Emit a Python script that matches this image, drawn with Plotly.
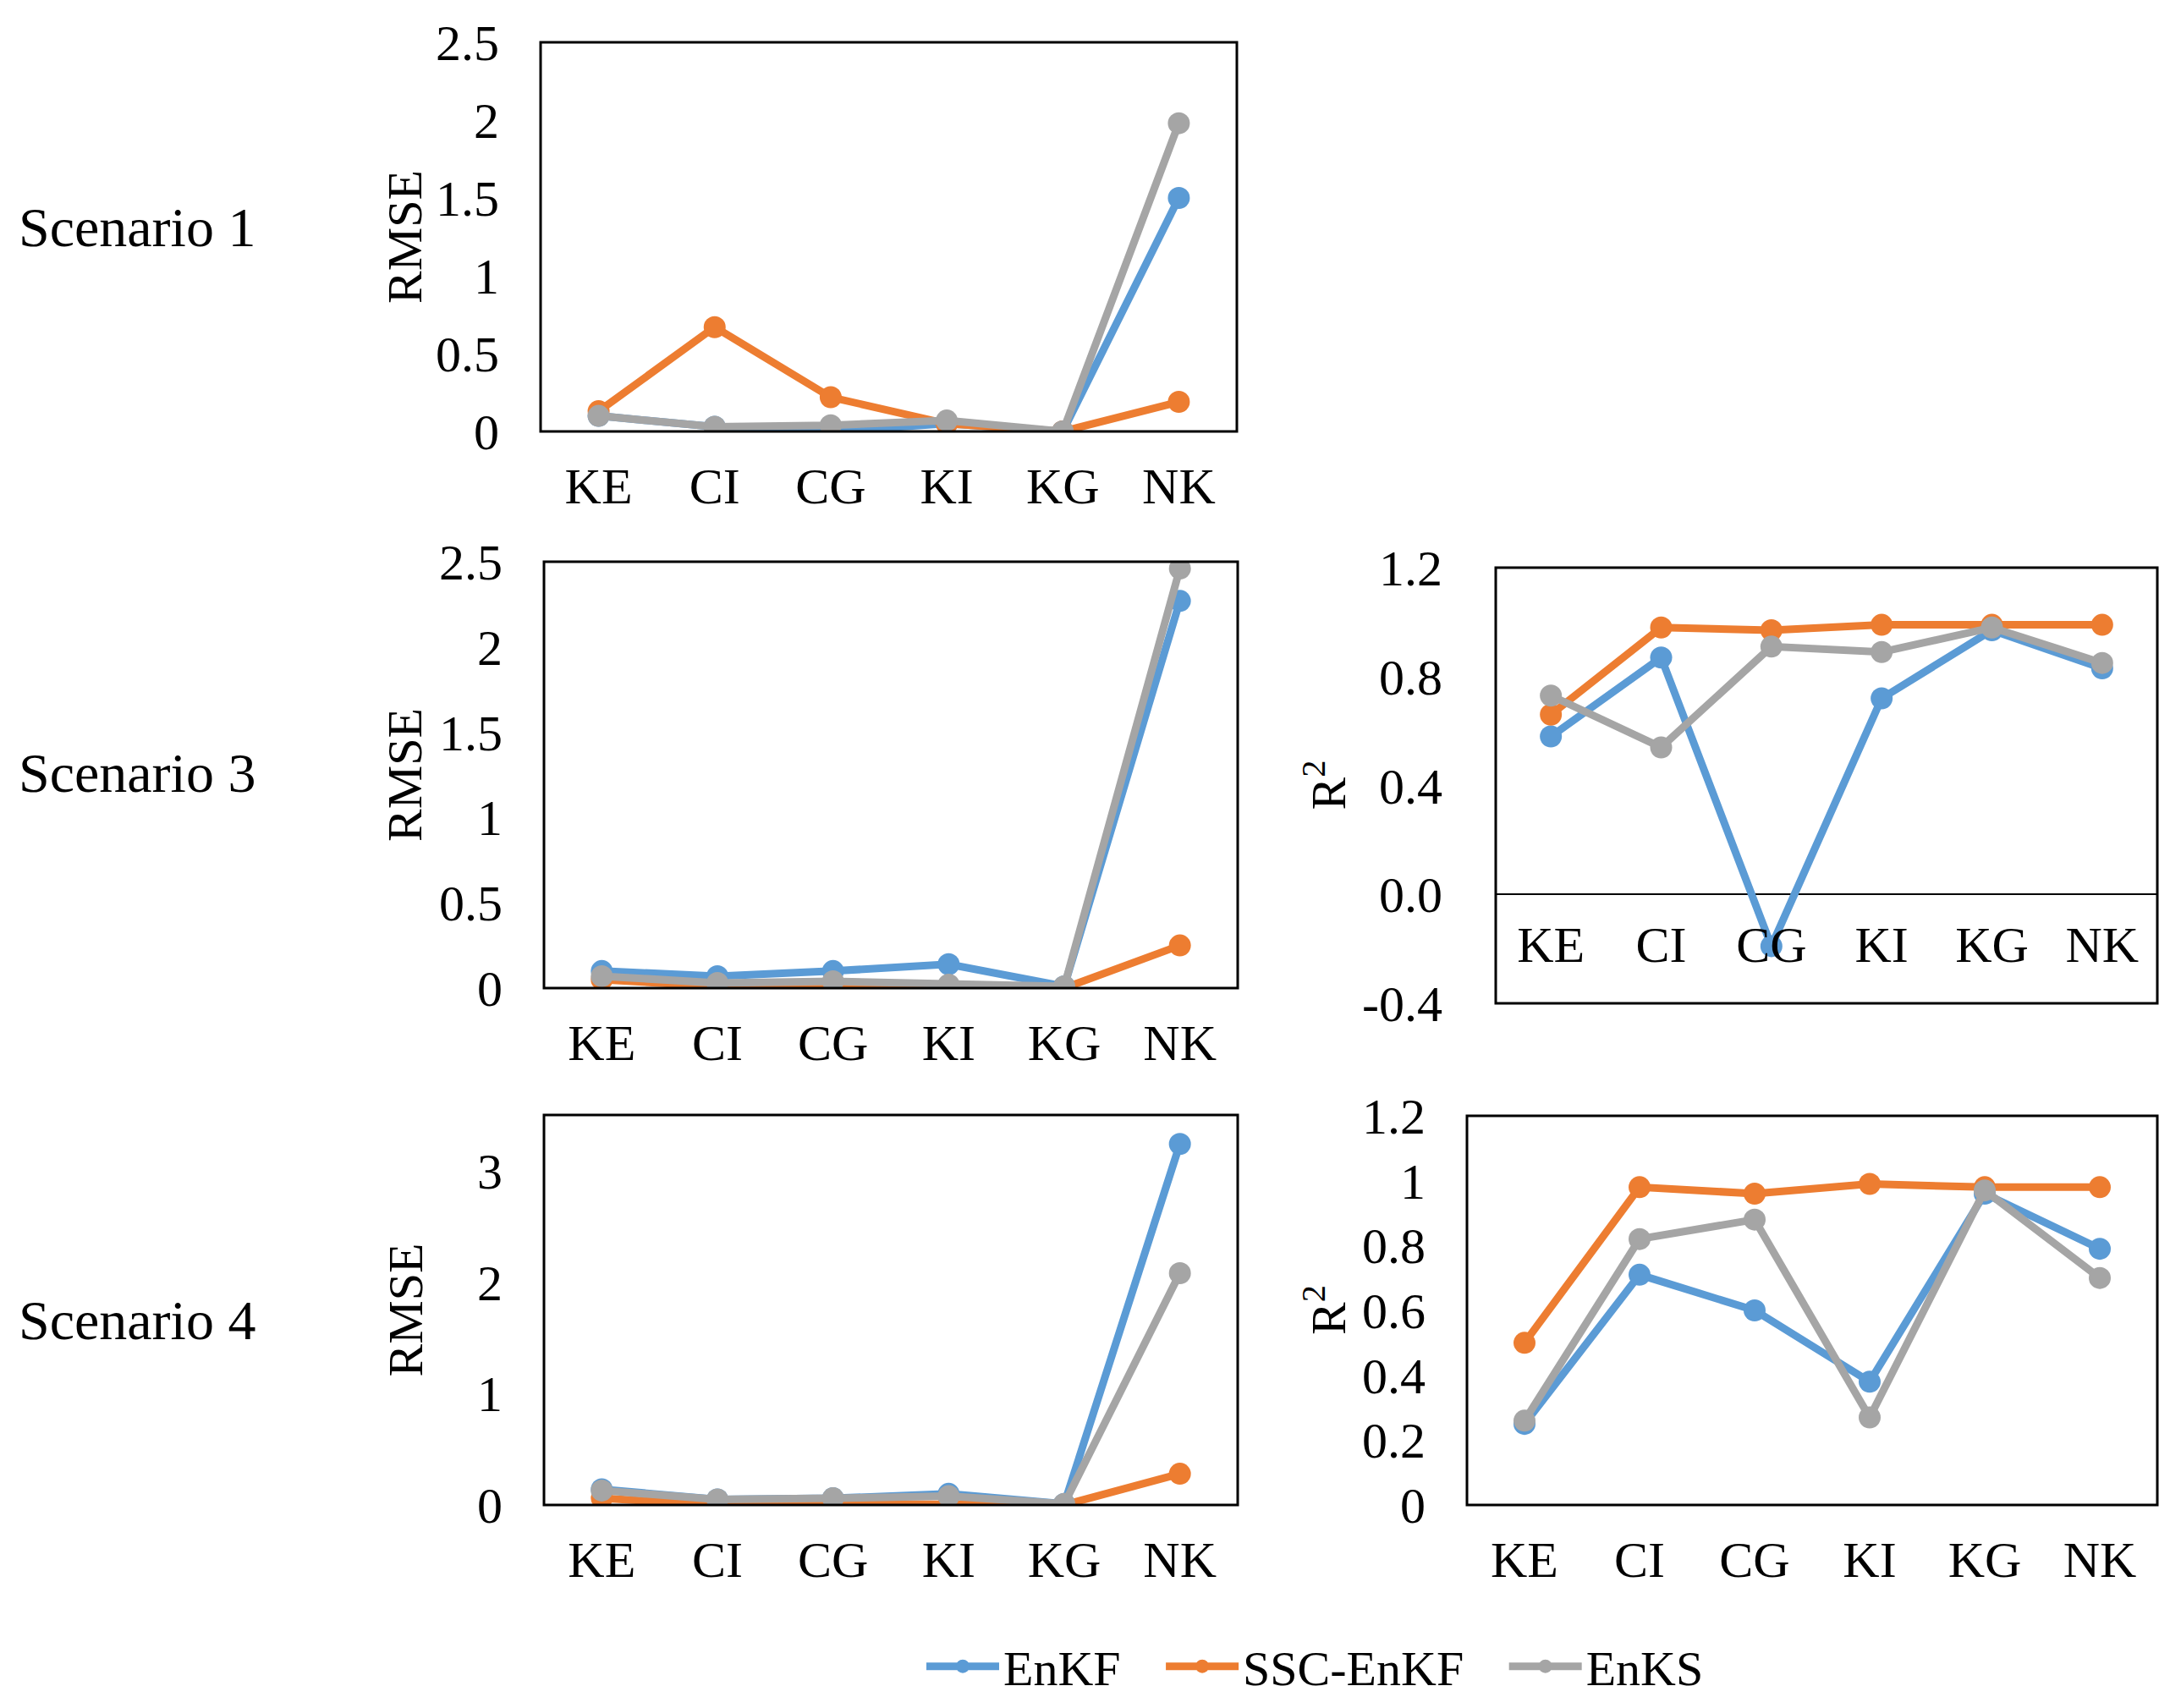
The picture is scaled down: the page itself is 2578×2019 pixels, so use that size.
import plotly.graph_objects as go

# categories on the x axis
sites = ["KE", "CI", "CG", "KI", "KG", "NK"]
methods = ["EnKF", "SSC-EnKF", "EnKS"]
colors = ["#5B9BD5", "#ED7D31", "#A5A5A5"]

# Scenario 1 - RMSE
s1_rmse_enkf = [0.10, 0.03, 0.00, 0.05, 0.00, 1.50]
s1_rmse_ssc = [0.13, 0.67, 0.22, 0.05, 0.00, 0.19]
s1_rmse_enks = [0.10, 0.03, 0.04, 0.07, 0.00, 1.98]

# Scenario 3 - RMSE
s3_rmse_enkf = [0.10, 0.07, 0.10, 0.14, 0.01, 2.27]
s3_rmse_ssc = [0.05, 0.01, 0.01, 0.00, 0.00, 0.25]
s3_rmse_enks = [0.07, 0.03, 0.04, 0.02, 0.01, 2.46]

# Scenario 3 - R2
s3_r2_enkf = [0.58, 0.87, -0.19, 0.72, 0.97, 0.83]
s3_r2_ssc = [0.66, 0.98, 0.97, 0.99, 0.99, 0.99]
s3_r2_enks = [0.73, 0.54, 0.91, 0.89, 0.98, 0.85]

# Scenario 4 - RMSE
s4_rmse_enkf = [0.14, 0.05, 0.06, 0.10, 0.01, 3.24]
s4_rmse_ssc = [0.06, 0.00, 0.01, 0.00, 0.00, 0.28]
s4_rmse_enks = [0.13, 0.05, 0.06, 0.08, 0.01, 2.08]

# Scenario 4 - R2
s4_r2_enkf = [0.25, 0.71, 0.60, 0.38, 0.96, 0.79]
s4_r2_ssc = [0.50, 0.98, 0.96, 0.99, 0.98, 0.98]
s4_r2_enks = [0.26, 0.82, 0.88, 0.27, 0.97, 0.70]

# tick labels of the scenario 3 R2 axis (Excel style, hyphen minus)
s3_r2_ticks = [-0.4, 0.0, 0.4, 0.8, 1.2]
s3_r2_ticktext = ["-0.4", "0.0", "0.4", "0.8", "1.2"]

scenario_labels = ["Scenario 1", "Scenario 3", "Scenario 4"]

W, H = 2578, 2019
OFF = 8  # page body margin shifts the figure, compensate
FONT = "Liberation Serif, Times New Roman, serif"
TICK = 60


def px_x(v):
    return (v - OFF) / W


def px_y(v):
    return 1 - (v - OFF) / H


# panel boxes in pixels: (left, right, top, bottom)
panels = [
    dict(box=(639, 1462, 50, 510), series=[s1_rmse_enkf, s1_rmse_ssc, s1_rmse_enks],
         yrange=[0, 2.5], dtick=0.5, title="RMSE", title_x=479),
    dict(box=(643, 1463, 664, 1168), series=[s3_rmse_enkf, s3_rmse_ssc, s3_rmse_enks],
         yrange=[0, 2.5], dtick=0.5, title="RMSE", title_x=479),
    dict(box=(1768, 2550, 671, 1186), series=[s3_r2_enkf, s3_r2_ssc, s3_r2_enks],
         yrange=[-0.4, 1.2], dtick=0.4, title="R<sup>2</sup>", title_x=1566),
    dict(box=(643, 1463, 1318, 1779), series=[s4_rmse_enkf, s4_rmse_ssc, s4_rmse_enks],
         yrange=[0, 3.5], dtick=1, title="RMSE", title_x=479),
    dict(box=(1734, 2550, 1319, 1779), series=[s4_r2_enkf, s4_r2_ssc, s4_r2_enks],
         yrange=[0, 1.2], dtick=0.2, title="R<sup>2</sup>", title_x=1566),
]

fig = go.Figure()
annotations = []
shapes = []

for i, p in enumerate(panels):
    n = "" if i == 0 else str(i + 1)
    l, r, t, b = p["box"]
    xdom = [px_x(l), px_x(r)]
    ydom = [px_y(b), px_y(t)]

    for j, vals in enumerate(p["series"]):
        fig.add_trace(go.Scatter(
            x=sites, y=vals, mode="lines+markers", name=methods[j] + "\u00a0\u00a0\u00a0",
            line=dict(color=colors[j], width=9),
            marker=dict(color=colors[j], size=26),
            xaxis="x" + n, yaxis="y" + n,
            showlegend=(i == 0), legendgroup=methods[j],
        ))

    xaxis = dict(domain=xdom, anchor="y" + n, showgrid=False, showline=False,
                 ticks="outside", ticklen=12, tickcolor="rgba(0,0,0,0)",
                 tickfont=dict(family=FONT, size=TICK, color="black"),
                 range=[-0.5, 5.5], zeroline=False, automargin=False)
    yaxis = dict(domain=ydom, anchor="x" + n, range=p["yrange"], dtick=p["dtick"],
                 showgrid=False, showline=False, zeroline=False,
                 ticks="outside", ticklen=36, tickcolor="rgba(0,0,0,0)",
                 tickfont=dict(family=FONT, size=TICK, color="black"), automargin=False)
    if p["yrange"][0] < 0:
        # category labels sit on the zero line inside the frame
        y0, y1 = p["yrange"]
        xaxis["anchor"] = "free"
        xaxis["position"] = ydom[0] + (0 - y0) / (y1 - y0) * (ydom[1] - ydom[0])
        xaxis["ticklen"] = 7
        yaxis["zeroline"] = True
        yaxis["zerolinecolor"] = "black"
        yaxis["zerolinewidth"] = 2
        yaxis["ticklen"] = 50
        yaxis["tickmode"] = "array"
        yaxis["tickvals"] = s3_r2_ticks
        yaxis["ticktext"] = s3_r2_ticktext
    fig.update_layout({"xaxis" + n: xaxis, "yaxis" + n: yaxis})

    shapes.append(dict(type="rect", xref="paper", yref="paper",
                       x0=xdom[0], x1=xdom[1], y0=ydom[0], y1=ydom[1],
                       line=dict(color="black", width=3), layer="above"))

    annotations.append(dict(text=p["title"], x=px_x(p["title_x"]), y=(ydom[0] + ydom[1]) / 2,
                            xref="paper", yref="paper", textangle=-90, showarrow=False,
                            xanchor="center", yanchor="middle",
                            font=dict(family=FONT, size=58, color="black")))

# scenario row labels
for label, yc in zip(scenario_labels, [268, 914, 1560]):
    annotations.append(dict(text=label, x=px_x(20), y=px_y(yc), xref="paper", yref="paper",
                            xanchor="left", yanchor="middle", showarrow=False,
                            font=dict(family=FONT, size=66, color="black")))

fig.update_layout(
    width=W, height=H,
    margin=dict(l=0, r=0, t=0, b=0),
    paper_bgcolor="white", plot_bgcolor="white",
    annotations=annotations, shapes=shapes,
    legend=dict(orientation="h", x=px_x(1576), xanchor="center", y=px_y(1970), yanchor="middle",
                font=dict(family=FONT, size=58, color="black"), itemwidth=86,
                bgcolor="rgba(0,0,0,0)"),
)

fig.write_html("out.html")
